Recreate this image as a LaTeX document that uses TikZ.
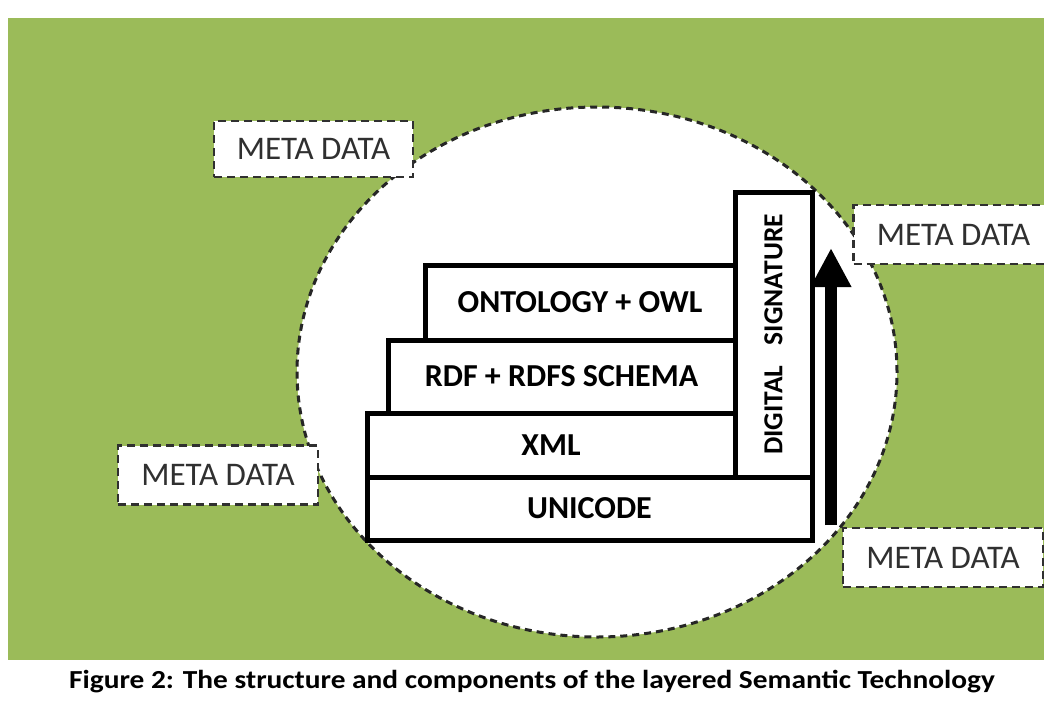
\documentclass[tikz,border=0pt]{standalone}
\usepackage{fontspec}
\setmainfont{Carlito}
\usetikzlibrary{arrows.meta,shapes.geometric}
\definecolor{bggreen}{HTML}{9BBB59}
\definecolor{mdgray}{HTML}{303030}
\begin{document}
\begin{tikzpicture}[x=1pt,y=-1pt,
  layer/.style={draw=black, line width=5pt, fill=white, rectangle, inner sep=0pt,
    font=\fontsize{32}{38}\selectfont\bfseries},
  meta/.style={draw=mdgray, line width=2.5pt, dash pattern=on 8pt off 5pt, fill=white,
    rectangle, inner sep=0pt, minimum width=200pt, minimum height=59pt,
    font=\fontsize{33}{39}\selectfont, text=mdgray},
  bigarrow/.style={line width=12pt, -{Triangle[width=38pt,length=39pt]}}]
\useasboundingbox (0,0) rectangle (1044,718);
\fill[white] (0,0) rectangle (1044,718);
\fill[bggreen] (8,18) rectangle (1044,660);
% circle
\node[ellipse, draw=black!85, line width=3pt, dash pattern=on 7pt off 5pt, fill=white,
  minimum width=600pt, minimum height=530pt, inner sep=0pt] (circ) at (597,372) {};
% meta data boxes
\node[meta, minimum width=199pt, minimum height=56pt] (md1) at (313.5,149) {META DATA};
\node[meta] (md2) at (218,475) {META DATA};
\node[meta] (md3) at (953.5,234.5) {META DATA};
\node[meta] (md4) at (943,557.5) {META DATA};
% layers
\node[layer, minimum width=310pt, minimum height=75pt] (ont) at (580,302.5) {ONTOLOGY + OWL};
\node[layer, minimum width=347pt, minimum height=73pt] (rdf) at (561.5,376.5) {RDF + RDFS SCHEMA};
\node[layer, minimum width=368pt, minimum height=64pt] (xml) at (551,445) {XML};
\node[layer, minimum width=445pt, minimum height=63pt] (uni) at (589.5,508.5) {UNICODE};
\node[layer, minimum width=77pt, minimum height=285pt, font=\fontsize{27.5}{32}\selectfont\bfseries]
  (ds) at (773.5,334.5) {\rotatebox{90}{DIGITAL\hspace{0.75em}SIGNATURE}};
% arrow
\coordinate (atail) at (831,525);
\coordinate (atip) at (831,248);
\draw[bigarrow] (atail) -- (atip);
% caption
\node[font=\fontsize{26}{30}\selectfont\bfseries, inner sep=0pt] (cap) at (532,682)
  {\scalebox{1.13}[1]{Figure 2: The structure and components of the layered Semantic Technology}};
\end{tikzpicture}
\end{document}
